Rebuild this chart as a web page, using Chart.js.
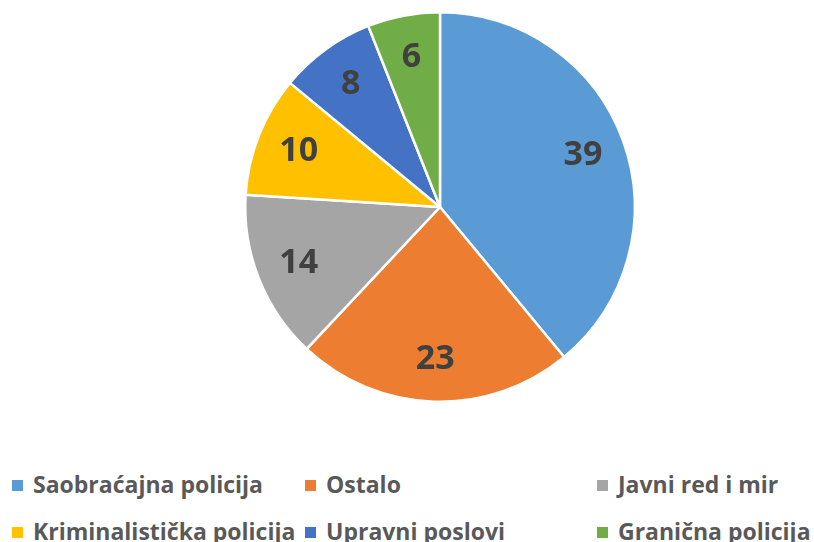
<!DOCTYPE html>
<html>
<head>
<meta charset="utf-8">
<script src="https://cdn.jsdelivr.net/npm/chart.js@4.4.1/dist/chart.umd.min.js"></script>
<style>
  html, body { margin: 0; padding: 0; background: #ffffff; }
  #wrap { position: relative; width: 814px; height: 542px; overflow: hidden; }
  #c { position: absolute; left: 0; top: 0; }
  .leg { position: absolute; font-family: "Open Sans", sans-serif; font-weight: 700; font-size: 23px; color: #595959; white-space: nowrap; line-height: 28px; }
  .leg span.box { display: inline-block; width: 11px; height: 11px; margin-right: 10px; vertical-align: 2px; }
</style>
</head>
<body>
<div id="wrap">
  <canvas id="c" width="814" height="420"></canvas>
  <div id="legend"></div>
</div>
<script>
const categories = ["Saobraćajna policija", "Ostalo", "Javni red i mir", "Kriminalistička policija", "Upravni poslovi", "Granična policija"];
const values = [39, 23, 14, 10, 8, 6];
const colors = ["#5B9BD5", "#ED7D31", "#A5A5A5", "#FFC000", "#4472C4", "#70AD47"];

const labelPlugin = {
  id: "sliceLabels",
  afterDatasetsDraw(chart) {
    const ctx = chart.ctx;
    const meta = chart.getDatasetMeta(0);
    ctx.save();
    ctx.font = "700 34px 'Open Sans', sans-serif";
    ctx.fillStyle = "#404040";
    ctx.textAlign = "center";
    ctx.textBaseline = "middle";
    meta.data.forEach((arc, i) => {
      const p = arc.getProps(["x", "y", "startAngle", "endAngle", "outerRadius"], true);
      const mid = (p.startAngle + p.endAngle) / 2;
      const r = p.outerRadius * 0.78;
      ctx.fillText(String(values[i]), p.x + Math.cos(mid) * r, p.y + Math.sin(mid) * r);
    });
    ctx.restore();
  }
};

new Chart(document.getElementById("c"), {
  type: "pie",
  data: {
    labels: categories,
    datasets: [{
      data: values,
      backgroundColor: colors,
      borderColor: "#ffffff",
      borderWidth: 2.5
    }]
  },
  options: {
    responsive: false,
    animation: false,
    layout: { padding: { left: 244, right: 178, top: 11, bottom: 17 } },
    plugins: {
      legend: { display: false },
      tooltip: { enabled: false }
    }
  },
  plugins: [labelPlugin]
});

// HTML legend in a 3-column grid
const legPos = [[12, 470], [305, 470], [597, 470], [12, 517], [305, 517], [597, 517]];
const legend = document.getElementById("legend");
categories.forEach((name, i) => {
  const d = document.createElement("div");
  d.className = "leg";
  d.style.left = legPos[i][0] + "px";
  d.style.top = legPos[i][1] + "px";
  d.innerHTML = '<span class="box" style="background:' + colors[i] + '"></span>' + name;
  legend.appendChild(d);
});
</script>
</body>
</html>
